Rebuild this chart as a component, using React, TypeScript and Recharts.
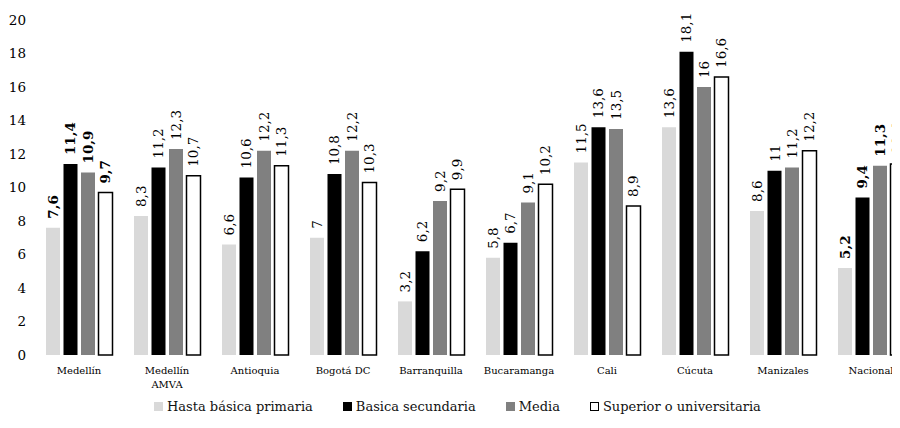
import { BarChart, Bar, XAxis, YAxis, LabelList } from 'recharts';

const categories = ['Medellín', 'Medellín AMVA', 'Antioquia', 'Bogotá DC', 'Barranquilla', 'Bucaramanga', 'Cali', 'Cúcuta', 'Manizales', 'Nacional'];
const hastaPrimaria = [7.6, 8.3, 6.6, 7, 3.2, 5.8, 11.5, 13.6, 8.6, 5.2];
const basicaSecundaria = [11.4, 11.2, 10.6, 10.8, 6.2, 6.7, 13.6, 18.1, 11, 9.4];
const media = [10.9, 12.3, 12.2, 12.2, 9.2, 9.1, 13.5, 16, 11.2, 11.3];
const superior = [9.7, 10.7, 11.3, 10.3, 9.9, 10.2, 8.9, 16.6, 12.2, 11.4];
const boldCategories = ['Medellín', 'Nacional'];
const yTicks = [0, 2, 4, 6, 8, 10, 12, 14, 16, 18, 20];

const series = [
  { key: 'primaria', name: 'Hasta básica primaria', fill: '#d9d9d9', stroke: 'none' },
  { key: 'secundaria', name: 'Basica secundaria', fill: '#000000', stroke: 'none' },
  { key: 'media', name: 'Media', fill: '#808080', stroke: 'none' },
  { key: 'superior', name: 'Superior o universitaria', fill: '#ffffff', stroke: '#000000' },
];

const data = categories.map((c, i) => ({
  name: c,
  primaria: hastaPrimaria[i],
  secundaria: basicaSecundaria[i],
  media: media[i],
  superior: superior[i],
}));

const FONT = '"DejaVu Serif", serif';

function ValueLabel(props: any) {
  const { x, y, width, value, index } = props;
  const cx = x + width / 2;
  const ty = y - 9;
  const bold = boldCategories.includes(categories[index]);
  return (
    <text
      x={cx}
      y={ty}
      transform={`rotate(-90, ${cx}, ${ty})`}
      textAnchor="start"
      dominantBaseline="central"
      fontFamily={FONT}
      fontSize={13.5}
      fontWeight={bold ? 'bold' : 'normal'}
      fill="#000"
    >
      {String(value).replace('.', ',')}
    </text>
  );
}

// long names wrap at the last space, like the original
function CategoryTick(props: any) {
  const { x, y, payload } = props;
  const label: string = payload.value;
  const cut = label.lastIndexOf(' ');
  const lines = label.length > 12 && cut > 0 ? [label.slice(0, cut), label.slice(cut + 1)] : [label];
  return (
    <text x={x} y={y} textAnchor="middle" fontFamily={FONT} fontSize={10} fill="#000">
      {lines.map((l, i) => (
        <tspan key={i} x={x} dy={i === 0 ? 9 : 14}>
          {l}
        </tspan>
      ))}
    </text>
  );
}

export default function App() {
  return (
    <div style={{ margin: -8, width: 900, height: 428, overflow: 'hidden', position: 'relative', background: '#fff' }}>
      <BarChart
        width={915}
        height={428}
        data={data}
        margin={{ top: 20, right: 0, left: 0, bottom: 33 }}
        barSize={14}
        barGap={3.5}
      >
        <XAxis dataKey="name" axisLine={false} tickLine={false} height={40} interval={0} tick={<CategoryTick />} tickMargin={4} />
        <YAxis
          domain={[0, 20]}
          ticks={yTicks}
          width={35}
          axisLine={false}
          tickLine={false}
          tickMargin={3}
          tick={{ fontFamily: FONT, fontSize: 13.5, fill: '#000' }}
        />
        {series.map((s) => (
          <Bar key={s.key} dataKey={s.key} name={s.name} fill={s.fill} stroke={s.stroke} strokeWidth={1.5} isAnimationActive={false}>
            <LabelList dataKey={s.key} content={<ValueLabel />} />
          </Bar>
        ))}
      </BarChart>
      <div
        style={{
          position: 'absolute',
          top: 399,
          left: 154,
          display: 'flex',
          alignItems: 'center',
          fontFamily: FONT,
          fontSize: 13,
          color: '#111',
          whiteSpace: 'nowrap',
        }}
      >
        {series.map((s, i) => (
          <div key={s.key} style={{ display: 'flex', alignItems: 'center', marginRight: i < 3 ? 30 : 0 }}>
            <span
              style={{
                display: 'inline-block',
                boxSizing: 'border-box',
                width: 9,
                height: 9,
                background: s.fill,
                border: s.stroke === 'none' ? 'none' : '1px solid #000',
                marginRight: 4,
              }}
            />
            {s.name}
          </div>
        ))}
      </div>
    </div>
  );
}
